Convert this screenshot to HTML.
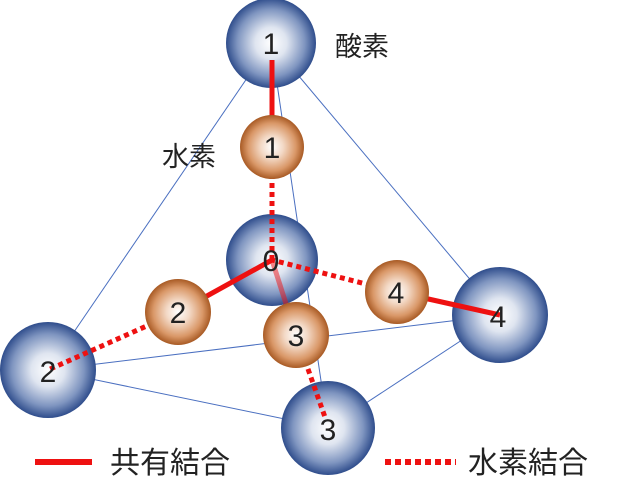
<!DOCTYPE html>
<html><head><meta charset="utf-8"><style>
html,body{margin:0;padding:0;background:#fff;width:617px;height:499px;overflow:hidden}
svg text{font-family:"Liberation Sans","Noto Sans CJK JP",sans-serif;}
</style></head><body>
<svg width="617" height="499" viewBox="0 0 617 499" xmlns="http://www.w3.org/2000/svg">
<defs>
<radialGradient id="b" cx="50%" cy="50%" r="50%">
<stop offset="0" stop-color="#ffffff"/><stop offset="0.35" stop-color="#dfe5f0"/><stop offset="0.75" stop-color="#7f95c0"/><stop offset="1" stop-color="#2f4d8c"/>
</radialGradient>
<radialGradient id="o" cx="50%" cy="50%" r="50%">
<stop offset="0" stop-color="#ffffff"/><stop offset="0.35" stop-color="#f3d9c6"/><stop offset="0.75" stop-color="#d99767"/><stop offset="1" stop-color="#a85a24"/>
</radialGradient>
</defs>
<g stroke="#4a6fc0" stroke-width="1" fill="none">
<line x1="271" y1="43" x2="48" y2="370"/>
<line x1="271" y1="43" x2="500" y2="315"/>
<line x1="271" y1="43" x2="328" y2="428"/>
<line x1="48" y1="370" x2="500" y2="315"/>
<line x1="48" y1="370" x2="328" y2="428"/>
<line x1="500" y1="315" x2="328" y2="428"/>
</g>
<circle cx="271" cy="43" r="45" fill="url(#b)"/>
<circle cx="48" cy="370" r="48" fill="url(#b)"/>
<circle cx="328" cy="428" r="47" fill="url(#b)"/>
<circle cx="500" cy="315" r="48" fill="url(#b)"/>
<circle cx="272" cy="260" r="46" fill="url(#b)"/>
<g stroke="#ee1111" stroke-width="5" fill="none">
<line x1="272" y1="60" x2="272" y2="118"/>
<line x1="272" y1="260" x2="178" y2="312"/>
<line x1="272" y1="260" x2="296" y2="335" stroke-opacity="0.5"/>
<line x1="397" y1="292" x2="500" y2="315"/>
<g stroke-dasharray="5 4">
<line x1="272" y1="147" x2="272" y2="260"/>
<line x1="178" y1="312" x2="48" y2="370"/>
<line x1="397" y1="292" x2="272" y2="260"/>
<line x1="296" y1="335" x2="326" y2="420"/>
</g>
</g>
<circle cx="272" cy="147" r="32" fill="url(#o)"/>
<circle cx="178" cy="312" r="33" fill="url(#o)"/>
<circle cx="296" cy="335" r="33" fill="url(#o)"/>
<circle cx="397" cy="292" r="32" fill="url(#o)"/>
<g font-size="30" fill="#222" text-anchor="middle">
<text x="271" y="54">1</text>
<text x="272" y="158">1</text>
<text x="271" y="271">0</text>
<text x="178" y="323">2</text>
<text x="296" y="346">3</text>
<text x="396" y="303">4</text>
<text x="48" y="382">2</text>
<text x="498" y="327">4</text>
<text x="328" y="440">3</text>
</g>
<g font-size="27" fill="#222">
<text x="335" y="56">酸素</text>
<text x="162" y="166">水素</text>
</g>
<g font-size="30" fill="#222">
<text x="110" y="473">共有結合</text>
<text x="468" y="473">水素結合</text>
</g>
<line x1="35" y1="462" x2="92" y2="462" stroke="#ee1111" stroke-width="6"/>
<line x1="385" y1="462" x2="456" y2="462" stroke="#ee1111" stroke-width="6" stroke-dasharray="6 4"/>
</svg>
</body></html>
